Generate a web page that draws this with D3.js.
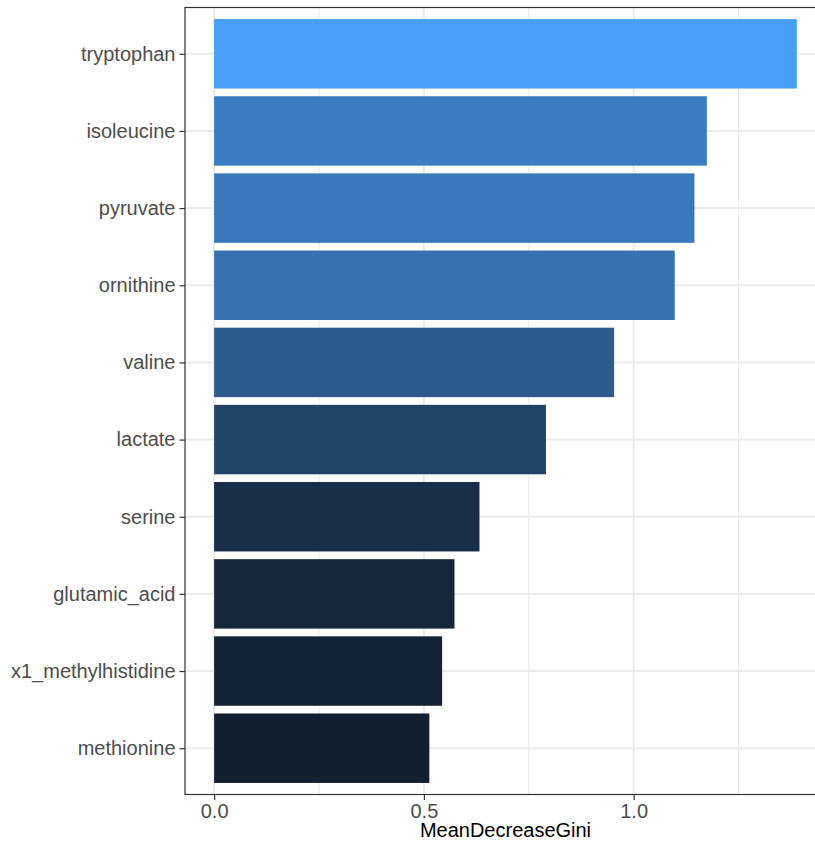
<!DOCTYPE html>
<html>
<head>
<meta charset="utf-8">
<script src="https://cdn.jsdelivr.net/npm/d3@7"></script>
<style>
  html, body { margin: 0; padding: 0; background: #fff; }
  svg { display: block; font-family: "Liberation Sans", Arial, Helvetica, sans-serif; }
</style>
</head>
<body>
<svg id="chart" width="815" height="845"></svg>
<script>
// Variable importance (random forest, mean decrease in Gini)
const features = [
  "tryptophan", "isoleucine", "pyruvate", "ornithine", "valine",
  "lactate", "serine", "glutamic_acid", "x1_methylhistidine", "methionine"
];
const meanDecreaseGini = [1.389, 1.1745, 1.145, 1.098, 0.9535, 0.791, 0.6325, 0.573, 0.5435, 0.513];
const xTicks = [0, 0.5, 1.0];
const xMinorTicks = [0.25, 0.75, 1.25];
const xTitle = "MeanDecreaseGini";

const data = features.map((f, i) => ({ name: f, value: meanDecreaseGini[i] }));

const svg = d3.select("#chart");
const panel = { left: 185, top: 7.5, bottom: 794.5 };

// continuous x with a 5% expansion on each side
const xMax = d3.max(meanDecreaseGini);
const pad = xMax * 0.05;
const unit = 419.5; // px per unit of MeanDecreaseGini
panel.right = panel.left + (xMax + 2 * pad) * unit;

const x = d3.scaleLinear()
  .domain([-pad, xMax + pad])
  .range([panel.left, panel.right]);

// discrete y, categories spaced one unit apart with 0.6 units of padding
const y = d3.scalePoint()
  .domain(features)
  .range([panel.top, panel.bottom])
  .padding(0.6);
const barH = y.step() * 0.9;

// fill shades from dark navy (lowest) to bright blue (highest)
const fill = d3.scaleLinear()
  .domain(d3.extent(meanDecreaseGini))
  .range(["#121F30", "#479FF8"])
  .interpolate(d3.interpolateLab);

const grid = svg.append("g");
// minor vertical gridlines
grid.selectAll("line.minor").data(xMinorTicks).join("line")
  .attr("class", "minor")
  .attr("x1", d => x(d)).attr("x2", d => x(d))
  .attr("y1", panel.top).attr("y2", panel.bottom)
  .attr("stroke", "#EBEBEB").attr("stroke-width", 1.1);
// major vertical gridlines
grid.selectAll("line.majorx").data(xTicks).join("line")
  .attr("class", "majorx")
  .attr("x1", d => x(d)).attr("x2", d => x(d))
  .attr("y1", panel.top).attr("y2", panel.bottom)
  .attr("stroke", "#EBEBEB").attr("stroke-width", 2);
// horizontal gridlines at each category
grid.selectAll("line.majory").data(features).join("line")
  .attr("class", "majory")
  .attr("x1", panel.left).attr("x2", panel.right)
  .attr("y1", d => y(d)).attr("y2", d => y(d))
  .attr("stroke", "#EBEBEB").attr("stroke-width", 2);

// bars
svg.append("g").selectAll("rect").data(data).join("rect")
  .attr("x", x(0))
  .attr("y", d => y(d.name) - barH / 2)
  .attr("width", d => x(d.value) - x(0))
  .attr("height", barH)
  .attr("fill", d => fill(d.value));

// panel border
svg.append("rect")
  .attr("x", panel.left).attr("y", panel.top)
  .attr("width", panel.right - panel.left)
  .attr("height", panel.bottom - panel.top)
  .attr("fill", "none").attr("stroke", "#333333").attr("stroke-width", 1.2);

// x axis
const xAxis = svg.append("g")
  .attr("transform", `translate(0,${panel.bottom})`)
  .call(d3.axisBottom(x).tickValues(xTicks).tickFormat(d3.format(".1f")).tickSize(5.5).tickPadding(4));
xAxis.select(".domain").remove();
xAxis.selectAll(".tick line").attr("stroke", "#333333").attr("stroke-width", 1.2);
xAxis.selectAll(".tick text").attr("fill", "#4D4D4D").style("font-size", "20px");

// y axis
const yAxis = svg.append("g")
  .attr("transform", `translate(${panel.left},0)`)
  .call(d3.axisLeft(y).tickSize(5.5).tickPadding(4));
yAxis.select(".domain").remove();
yAxis.selectAll(".tick line").attr("stroke", "#333333").attr("stroke-width", 1.2);
yAxis.selectAll(".tick text").attr("fill", "#4D4D4D").style("font-size", "20px");

// axis title
svg.append("text")
  .attr("x", (panel.left + panel.right) / 2)
  .attr("y", 837)
  .attr("text-anchor", "middle")
  .attr("fill", "#000")
  .style("font-size", "20px")
  .text(xTitle);
</script>
</body>
</html>
